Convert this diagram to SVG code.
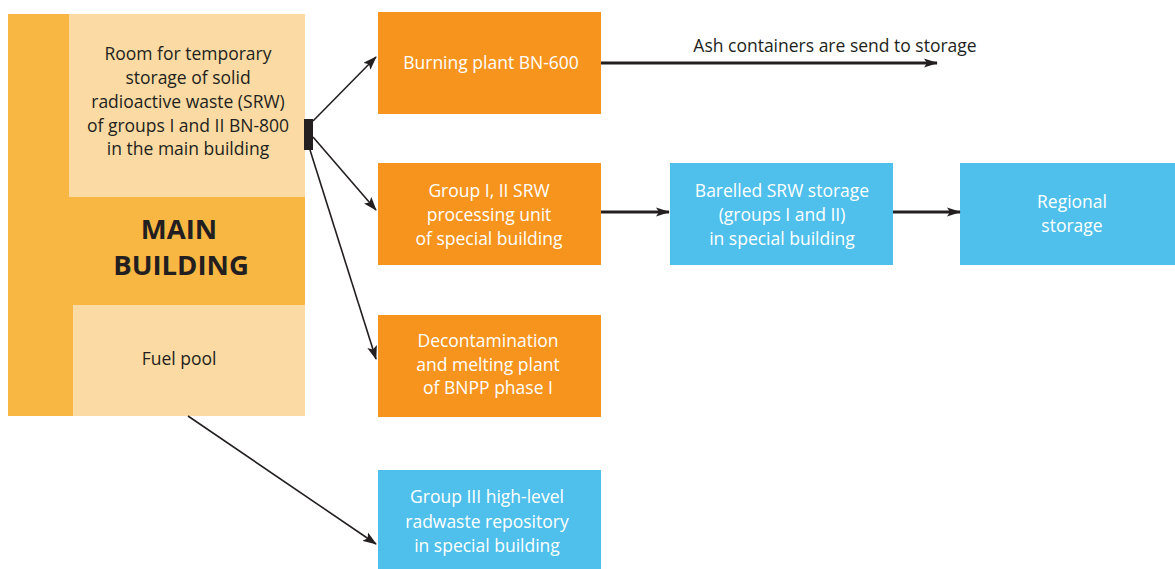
<svg xmlns="http://www.w3.org/2000/svg" width="1175" height="569" viewBox="0 0 1175 569">
<style>
  .orange { fill: #F7941E; }
  .blue { fill: #4FC0EC; }
  .light { fill: #FBDBA3; }
  .mid { fill: #F8B642; }
  text { font-family: "Open Sans", "Liberation Sans", sans-serif; font-size: 17.5px; text-anchor: middle; }
  .wt { fill: #FFFFFF; }
  .dk { fill: #231F20; }
  .big { font-size: 27.5px; font-weight: bold; }
  .thin { stroke: #231F20; stroke-width: 1.6; fill: none; marker-end: url(#arr); }
  .thick { stroke: #231F20; stroke-width: 2.8; fill: none; marker-end: url(#arr2); }
</style>
<defs>
  <marker id="arr" markerUnits="userSpaceOnUse" markerWidth="14" markerHeight="10" refX="13" refY="5" orient="auto">
    <path d="M0,0 L14,5 L0,10 L3,5 Z" fill="#231F20"/>
  </marker>
  <marker id="arr2" markerUnits="userSpaceOnUse" markerWidth="14" markerHeight="10" refX="13" refY="5" orient="auto">
    <path d="M0,0.5 L14,5 L0,9.5 L3,5 Z" fill="#231F20"/>
  </marker>
</defs>

<g id="main-building">
  <rect class="mid" x="8" y="14" width="297" height="402"/>
  <rect class="light" x="69" y="14" width="236" height="183"/>
  <rect class="light" x="73" y="305" width="232" height="111"/>
  <text class="dk" x="188" y="60">Room for temporary</text>
  <text class="dk" x="188" y="84">storage of solid</text>
  <text class="dk" x="188" y="108">radioactive waste (SRW)</text>
  <text class="dk" x="188" y="132">of groups I and II BN-800</text>
  <text class="dk" x="188" y="155">in the main building</text>
  <text class="dk big" x="179" y="239">MAIN</text>
  <text class="dk big" x="181" y="275">BUILDING</text>
  <text class="dk" x="179" y="365">Fuel pool</text>
  <rect x="304" y="119" width="9" height="31" fill="#231F20"/>
</g>

<g id="burning-plant">
  <rect class="orange" x="378" y="12" width="223" height="102"/>
  <text class="wt" x="491" y="69">Burning plant BN-600</text>
</g>

<g id="processing-unit">
  <rect class="orange" x="378" y="163" width="223" height="102"/>
  <text class="wt" x="489" y="197">Group I, II SRW</text>
  <text class="wt" x="489" y="221">processing unit</text>
  <text class="wt" x="489" y="245">of special building</text>
</g>

<g id="decontamination">
  <rect class="orange" x="378" y="315" width="223" height="102"/>
  <text class="wt" x="488" y="347">Decontamination</text>
  <text class="wt" x="488" y="371">and melting plant</text>
  <text class="wt" x="488" y="394">of BNPP phase I</text>
</g>

<g id="group-iii">
  <rect class="blue" x="378" y="470" width="223" height="99"/>
  <text class="wt" x="487" y="503">Group III high-level</text>
  <text class="wt" x="487" y="528">radwaste repository</text>
  <text class="wt" x="487" y="552">in special building</text>
</g>

<g id="barelled-storage">
  <rect class="blue" x="670" y="163" width="223" height="102"/>
  <text class="wt" x="782" y="197">Barelled SRW storage</text>
  <text class="wt" x="782" y="221">(groups I and II)</text>
  <text class="wt" x="782" y="245">in special building</text>
</g>

<g id="regional-storage">
  <rect class="blue" x="960" y="163" width="215" height="102"/>
  <text class="wt" x="1072" y="208">Regional</text>
  <text class="wt" x="1072" y="232">storage</text>
</g>

<g id="connectors">
  <line class="thin" x1="313" y1="121" x2="376" y2="57"/>
  <line class="thin" x1="313" y1="137" x2="376" y2="210"/>
  <line class="thin" x1="310" y1="150" x2="376" y2="359"/>
  <line class="thin" x1="188" y1="416" x2="376" y2="544"/>
  <line class="thick" x1="601" y1="63" x2="937" y2="63"/>
  <line class="thick" x1="601" y1="212" x2="669" y2="212"/>
  <line class="thick" x1="893" y1="212" x2="960" y2="212"/>
  <text class="dk" x="835" y="52">Ash containers are send to storage</text>
</g>
</svg>
